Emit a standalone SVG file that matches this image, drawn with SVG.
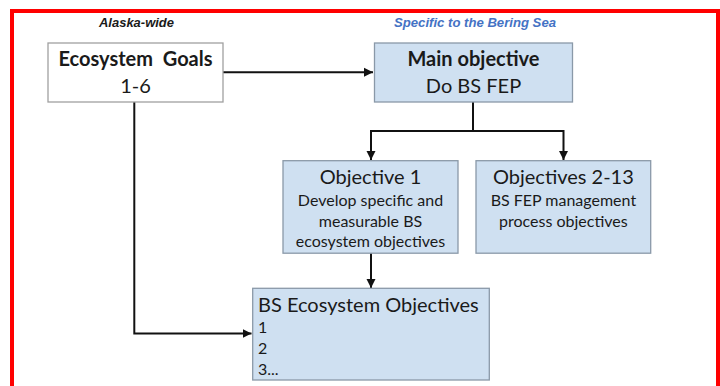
<svg xmlns="http://www.w3.org/2000/svg" width="720" height="386" viewBox="0 0 720 386">
<style>
.box{fill:#cfe0f1;stroke:#8a99a8;stroke-width:1.3}
.wbox{fill:#ffffff;stroke:#a0a0a0;stroke-width:1.3}
.t{font-family:Lato,"Liberation Sans",sans-serif;fill:#1a1a1a}
.big{font-size:20px}
.b{font-weight:bold}
.sm{font-size:16px}
.hdr{font-family:"Liberation Sans",Arial,sans-serif;font-size:12.5px;font-weight:bold;font-style:italic}
.ln{fill:none;stroke:#111;stroke-width:2}
</style>
<defs>
<marker id="ah" markerWidth="10" markerHeight="10" refX="9" refY="5" orient="auto" markerUnits="userSpaceOnUse">
<path d="M0,0.5 L9,5 L0,9.5 Z" fill="#111"/>
</marker>
</defs>
<rect x="0" y="0" width="720" height="386" fill="#ffffff"/>
<rect x="12" y="11" width="706" height="390" fill="none" stroke="#ff0000" stroke-width="4"/>
<text class="hdr" x="99" y="27" textLength="75" lengthAdjust="spacingAndGlyphs" fill="#1a1a1a">Alaska-wide</text>
<text class="hdr" x="394" y="27" textLength="162" lengthAdjust="spacingAndGlyphs" fill="#4472c4">Specific to the Bering Sea</text>
<g id="connectors">
<line class="ln" x1="223" y1="72.3" x2="373" y2="72.3" marker-end="url(#ah)"/>
<polyline class="ln" points="134.3,102 134.3,333.5 251.5,333.5" marker-end="url(#ah)"/>
<line class="ln" x1="473" y1="102" x2="473" y2="131"/>
<polyline class="ln" points="371,160 371,131 563.5,131 563.5,160" marker-end="url(#ah)"/>
<line class="ln" x1="371" y1="131" x2="371" y2="160" marker-end="url(#ah)"/>
<line class="ln" x1="371" y1="253" x2="371" y2="288" marker-end="url(#ah)"/>
</g>
<g id="ecosystem-goals">
<rect class="wbox" x="48" y="43" width="175" height="59"/>
<text class="t big b" x="135.5" y="66" text-anchor="middle" xml:space="preserve">Ecosystem  Goals</text>
<text class="t big" x="135.5" y="93" text-anchor="middle">1-6</text>
</g>
<g id="main-objective">
<rect class="box" x="374.5" y="43" width="198" height="59"/>
<text class="t big b" x="473.5" y="66" text-anchor="middle">Main objective</text>
<text class="t big" x="473.5" y="93" text-anchor="middle">Do BS FEP</text>
</g>
<g id="objective-1">
<rect class="box" x="283" y="160.7" width="175" height="92.5"/>
<text class="t big" x="370.5" y="184.3" text-anchor="middle">Objective 1</text>
<text class="t sm" x="370.5" y="206" text-anchor="middle">Develop specific and</text>
<text class="t sm" x="370.5" y="226.5" text-anchor="middle">measurable BS</text>
<text class="t sm" x="370.5" y="247" text-anchor="middle">ecosystem objectives</text>
</g>
<g id="objectives-2-13">
<rect class="box" x="476" y="160.7" width="174.7" height="92.5"/>
<text class="t big" x="563.4" y="184.3" text-anchor="middle">Objectives 2-13</text>
<text class="t sm" x="563.4" y="206" text-anchor="middle">BS FEP management</text>
<text class="t sm" x="563.4" y="226.5" text-anchor="middle">process objectives</text>
</g>
<g id="bs-ecosystem-objectives">
<rect class="box" x="252.7" y="288.3" width="236.6" height="91.7"/>
<text class="t big" x="258" y="311.7">BS Ecosystem Objectives</text>
<text class="t sm" x="258" y="333">1</text>
<text class="t sm" x="258" y="354">2</text>
<text class="t sm" x="258" y="375">3...</text>
</g>
</svg>
